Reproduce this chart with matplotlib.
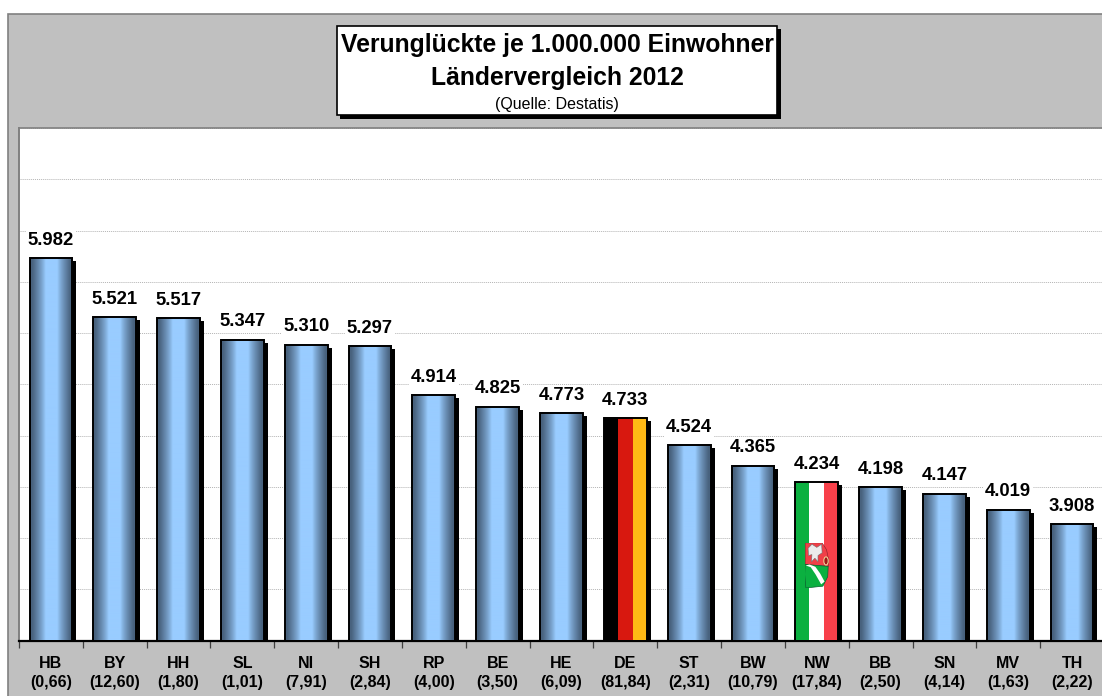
import numpy as np
import matplotlib
matplotlib.use("Agg")
import matplotlib.pyplot as plt
from matplotlib.colors import to_rgb
from matplotlib.patches import Rectangle, Polygon, Circle
from matplotlib.transforms import ScaledTranslation

laender = ["HB", "BY", "HH", "SL", "NI", "SH", "RP", "BE", "HE", "DE", "ST", "BW", "NW", "BB", "SN", "MV", "TH"]
einwohner = ["0,66", "12,60", "1,80", "1,01", "7,91", "2,84", "4,00", "3,50", "6,09",
             "81,84", "2,31", "10,79", "17,84", "2,50", "4,14", "1,63", "2,22"]
werte = [5982, 5521, 5517, 5347, 5310, 5297, 4914, 4825, 4773, 4733, 4524, 4365, 4234, 4198, 4147, 4019, 3908]

W, H = 1102, 696
plt.rcParams['font.family'] = ['Liberation Sans', 'DejaVu Sans']

def fx(px):
    return px / W

def fy(py):
    return 1 - py / H

def px_rect(x0, y0, x1, y1, **kw):
    # rectangle in picture pixels, y counted from the top
    return Rectangle((fx(x0), fy(y1)), fx(x1) - fx(x0), fy(y0) - fy(y1), transform=fig.transFigure, **kw)

def stripes(ax, bar, colors, zorder=3):
    img = np.array([[to_rgb(c) for c in colors]])
    ax.imshow(img, extent=(bar.get_x(), bar.get_x() + bar.get_width(), 3000, bar.get_height() + 3000),
              aspect='auto', interpolation='nearest', zorder=zorder)

def gradient(n=86):
    dunkel = np.array(to_rgb('#48627e'))
    hell = np.array(to_rgb('#99ccff'))
    t = np.abs(np.linspace(-1, 1, n))
    mix = (np.clip((t - 0.28) / 0.62, 0, 1) ** 0.8)[:, None]
    return (hell * (1 - mix) + dunkel * mix)[None, :, :]

fig = plt.figure(figsize=(W / 100, H / 100), dpi=100, facecolor='white')

# grauer Hintergrund
fig.patches.append(px_rect(8, 14, W + 5, H + 5, facecolor='#c0c0c0', edgecolor='#808080', linewidth=1.2, zorder=-1))

ax = fig.add_axes([fx(19), fy(640.5), fx(1104) - fx(19), fy(128) - fy(640.5)])
ax.set_facecolor('white')

x = np.arange(len(laender))
hoehe = [w - 3000 for w in werte]
breite = 0.67

# Schatten
schatten = ScaledTranslation(4 / 100, -3 / 100, fig.dpi_scale_trans)
ax.bar(x, hoehe, breite, bottom=3000, color='black', edgecolor='black', linewidth=0,
       transform=ax.transData + schatten, zorder=2)

bars = ax.bar(x, hoehe, breite, bottom=3000, facecolor='none', edgecolor='black', linewidth=1.4, zorder=4)

for i, bar in enumerate(bars):
    if laender[i] == "DE":
        stripes(ax, bar, ['#000000', '#d8180f', '#ffb915'])
    elif laender[i] == "NW":
        stripes(ax, bar, ['#0bb040', '#ffffff', '#f8404a'])
    else:
        ax.imshow(gradient(), extent=(bar.get_x(), bar.get_x() + bar.get_width(), 3000, werte[i]),
                  aspect='auto', interpolation='bilinear', zorder=3)
    ax.annotate(f"{werte[i] / 1000:.3f}", (i, werte[i]), xytext=(0, 6.8), textcoords='offset points',
                ha='center', va='bottom', fontsize=13.3, fontweight='bold', color='black', zorder=5,
                bbox=dict(facecolor='white', edgecolor='none', pad=1.5))

ax.set_xlim(-0.5, len(laender) - 0.5)
ax.set_ylim(3000, 7000)

ax.set_yticks(np.arange(3000, 7001, 400))
ax.tick_params(axis='y', length=0, labelleft=False)
ax.grid(axis='y', color='#b4b4b4', linewidth=0.7, linestyle=(0, (1, 1)), zorder=1)
ax.set_axisbelow(True)

ax.set_xticks(np.arange(len(laender) + 1) - 0.5)
ax.set_xticklabels([])
ax.tick_params(axis='x', which='major', length=5, width=0.9, color='#404040')
ax.set_xticks(x, [f"{l}\n({e})" for l, e in zip(laender, einwohner)], minor=True)
ax.tick_params(axis='x', which='minor', length=0, pad=11, labelsize=11.5)
for lab in ax.get_xticklabels(minor=True):
    lab.set_fontweight('bold')
    lab.set_linespacing(1.38)

ax.spines['top'].set_color('#808080')
ax.spines['left'].set_color('#808080')
ax.spines['left'].set_linewidth(1.4)
ax.spines['top'].set_linewidth(1.2)
ax.spines['right'].set_visible(False)
ax.spines['bottom'].set_color('black')
ax.spines['bottom'].set_linewidth(1.6)

# NRW Wappen auf dem Balken
i_nw = laender.index("NW")
wappen = ax.inset_axes([i_nw - 0.19, 3410, 0.38, 352], transform=ax.transData, zorder=6)
wappen.set_xlim(0, 1)
wappen.set_ylim(0, 1)
wappen.axis('off')
wappen.patch.set_alpha(0)
wappen.add_patch(Polygon([(0.02, 1), (0.72, 1), (0.9, 0.85), (1, 0.6), (0.97, 0.48), (0.02, 0.52)],
                         facecolor='#f04048', edgecolor='#802028', linewidth=0.4))
wappen.add_patch(Polygon([(0.02, 0.52), (0.97, 0.48), (0.95, 0.25), (0.75, 0.04), (0.05, 0), (0, 0.3)],
                         facecolor='#0bb040', edgecolor='#0a6030', linewidth=0.5))
wappen.add_patch(Polygon([(0.04, 0.5), (0.25, 0.46), (0.45, 0.3), (0.68, 0.08), (0.82, 0.14), (0.64, 0.32), (0.44, 0.47), (0.2, 0.52)],
                         facecolor='white', edgecolor='none'))
wappen.add_patch(Polygon([(0.14, 0.88), (0.3, 0.97), (0.5, 0.9), (0.7, 0.97), (0.72, 0.78), (0.55, 0.72), (0.55, 0.58),
                          (0.42, 0.66), (0.28, 0.58), (0.3, 0.74), (0.16, 0.72)],
                         facecolor='#ececec', edgecolor='#707070', linewidth=0.4))
wappen.add_patch(Circle((0.88, 0.6), 0.09, facecolor='#a01818', edgecolor='#f0e0a0', linewidth=0.7))

# Titelkasten
fig.patches.append(px_rect(340, 29, 780.5, 118.5, facecolor='black', edgecolor='none'))
fig.patches.append(px_rect(337, 26, 777, 115, facecolor='white', edgecolor='black', linewidth=1.2))
fig.text(fx(557), fy(45), "Verunglückte je 1.000.000 Einwohner", ha='center', va='center',
         fontsize=17.8, fontweight='bold', color='black')
fig.text(fx(557), fy(78), "Ländervergleich 2012", ha='center', va='center',
         fontsize=17.8, fontweight='bold', color='black')
fig.text(fx(557), fy(104.5), "(Quelle: Destatis)", ha='center', va='center', fontsize=11.5, color='black')

fig.savefig("out.png", dpi=100)
